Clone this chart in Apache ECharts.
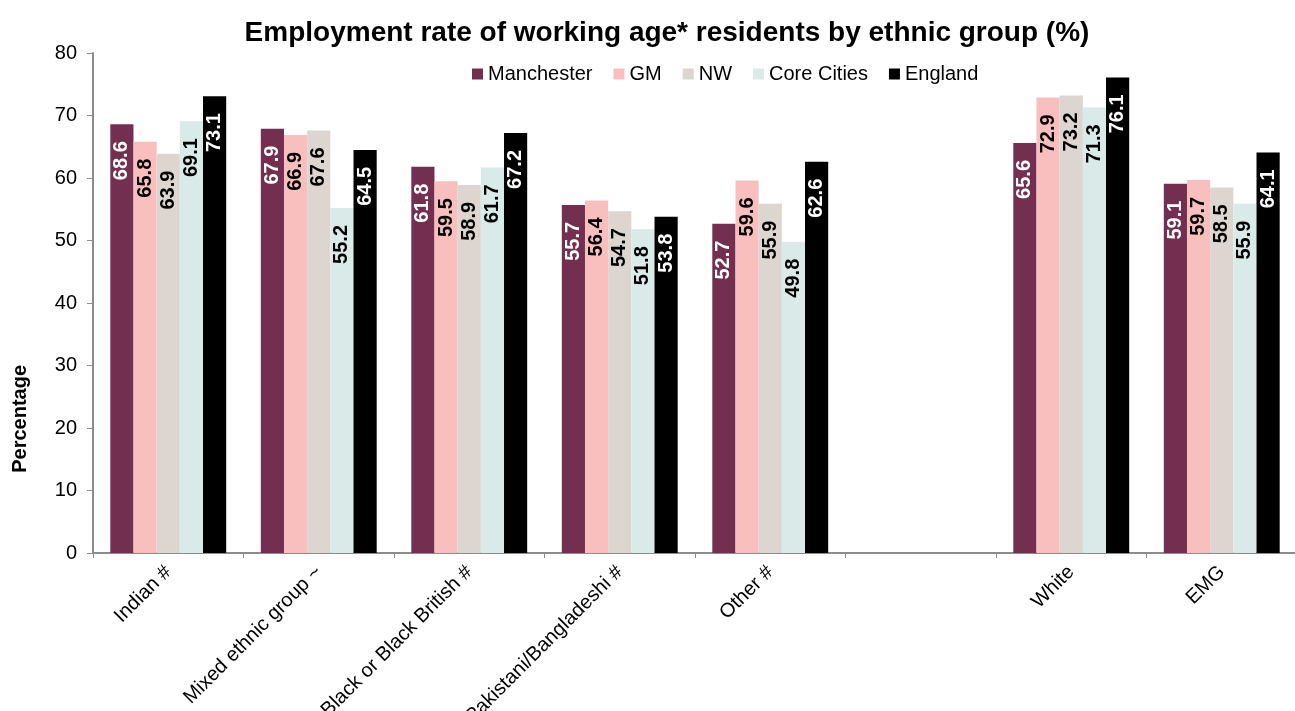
<!DOCTYPE html>
<html>
<head>
    <meta charset="utf-8">
    <title>Employment rate by ethnic group</title>
    <script type="text/javascript" src="https://cdn.jsdelivr.net/npm/echarts@6/dist/echarts.min.js"></script>
    <style>
        html, body { margin: 0; padding: 0; background: #fff; overflow: hidden; }
        #root { width: 1295px; height: 711px; }
    </style>
</head>
<body>
<div id="root"></div>
<script type="text/javascript">
// categories (blank one is the gap between "Other #" and "White")
var categories = ['Indian #', 'Mixed ethnic group ~', 'Black or Black British #', 'Pakistani/Bangladeshi #', 'Other #', '', 'White', 'EMG'];
var manchester = [68.6, 67.9, 61.8, 55.7, 52.7, '-', 65.6, 59.1];
var gm         = [65.8, 66.9, 59.5, 56.4, 59.6, '-', 72.9, 59.7];
var nw         = [63.9, 67.6, 58.9, 54.7, 55.9, '-', 73.2, 58.5];
var coreCities = [69.1, 55.2, 61.7, 51.8, 49.8, '-', 71.3, 55.9];
var england    = [73.1, 64.5, 67.2, 53.8, 62.6, '-', 76.1, 64.1];
var seriesNames = ['Manchester', 'GM', 'NW', 'Core Cities', 'England'];

var colors = ['#722f50', '#f9bfbf', '#ddd5d0', '#d9eae8', '#000000'];
var labelColors = ['#fff', '#000', '#000', '#000', '#fff'];
var font = 'Arial, "Liberation Sans", sans-serif';

var myChart = echarts.init(document.getElementById('root'), null, { width: 1295, height: 711 });

function makeSeries(name, data, i) {
    return {
        name: name,
        type: 'bar',
        data: data,
        barGap: '0%',
        barCategoryGap: '23%',
        itemStyle: { color: colors[i] },
        label: {
            show: true,
            position: 'insideTop',
            distance: 17,
            rotate: 90,
            align: 'right',
            verticalAlign: 'middle',
            color: labelColors[i],
            fontFamily: font,
            fontWeight: 'bold',
            fontSize: 20,
            formatter: function (p) { return p.value.toFixed(1); }
        }
    };
}

var allData = [manchester, gm, nw, coreCities, england];

option = {
    animation: false,
    color: colors,
    title: {
        text: 'Employment rate of working age* residents by ethnic group (%)',
        left: 662,
        textAlign: 'center',
        top: 14,
        textStyle: { fontFamily: font, fontSize: 28, fontWeight: 'bold', color: '#000' }
    },
    legend: {
        data: seriesNames,
        left: 467,
        top: 59,
        itemWidth: 11,
        itemHeight: 11,
        itemGap: 21,
        icon: 'rect',
        textStyle: { fontFamily: font, fontSize: 20, color: '#000' }
    },
    grid: { left: 93, top: 53, height: 500, width: 1204, outerBoundsMode: 'none', containLabel: false },
    xAxis: [{
        type: 'category',
        data: categories,
        axisLine: { lineStyle: { color: '#8c8c8c', width: 2 } },
        axisTick: { show: true, length: 5, lineStyle: { color: '#8c8c8c' } },
        axisLabel: {
            rotate: 45,
            interval: 0,
            margin: 16,
            color: '#000',
            fontFamily: font,
            fontSize: 20
        }
    }],
    yAxis: [{
        type: 'value',
        min: 0,
        max: 80,
        interval: 10,
        splitLine: { show: false },
        axisLine: { show: true, lineStyle: { color: '#8c8c8c', width: 2 } },
        axisTick: { show: true, length: 6, lineStyle: { color: '#8c8c8c' } },
        axisLabel: { margin: 16, color: '#000', fontFamily: font, fontSize: 20 }
    }],
    graphic: [{
        type: 'text',
        left: 10,
        top: 365,
        rotation: Math.PI / 2,
        style: {
            text: 'Percentage',
            fontFamily: font,
            fontSize: 20,
            fontWeight: 'bold',
            fill: '#000'
        }
    }],
    series: seriesNames.map(function (n, i) { return makeSeries(n, allData[i], i); })
};
myChart.setOption(option, true);
</script>
</body>
</html>
